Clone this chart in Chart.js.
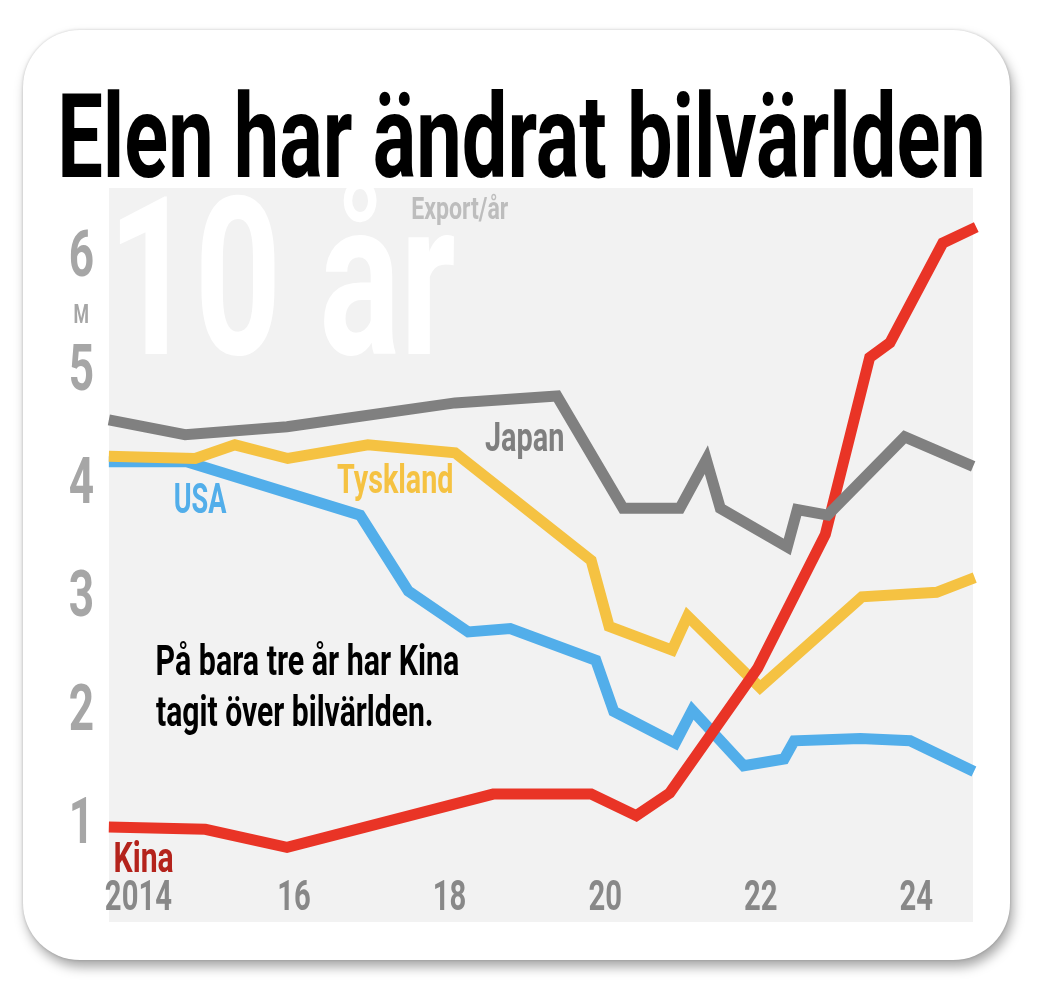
<!DOCTYPE html>
<html lang="sv">
<head>
<meta charset="utf-8">
<title>Elen har ändrat bilvärlden</title>
<script src="https://cdn.jsdelivr.net/npm/chart.js@4.4.1/dist/chart.umd.min.js"></script>
<style>
  html, body { margin: 0; padding: 0; background: #fff; }
  body { width: 1056px; height: 988px; position: relative; overflow: hidden; }
  .card {
    position: absolute; left: 23px; top: 30px; width: 987px; height: 930px;
    background: #fff; border-radius: 57px;
    box-shadow: 3px 7px 12px rgba(0, 0, 0, 0.35), 0 0 3px rgba(0, 0, 0, 0.18);
  }
  #chart { position: absolute; left: 0; top: 0; }
</style>
</head>
<body>
<div class="card"></div>
<canvas id="chart" width="1056" height="988"></canvas>
<script>
// Export per year, millions of cars
const japanYears = [2013.62, 2014.60, 2015.91, 2018.07, 2019.38, 2020.23, 2020.96, 2021.30, 2021.48, 2022.34, 2022.47, 2022.86, 2023.85, 2024.73];
const japanValues = [4.59, 4.46, 4.53, 4.74, 4.80, 3.81, 3.81, 4.24, 3.81, 3.47, 3.80, 3.75, 4.44, 4.18];

const kinaYears = [2013.62, 2014.86, 2015.91, 2018.56, 2019.82, 2020.40, 2020.83, 2021.96, 2022.83, 2023.40, 2023.66, 2024.34, 2024.77];
const kinaValues = [1.00, 0.98, 0.82, 1.29, 1.29, 1.10, 1.30, 2.40, 3.58, 5.14, 5.27, 6.15, 6.29];

const tysklandYears = [2013.62, 2014.73, 2015.24, 2015.92, 2016.95, 2018.07, 2019.82, 2020.05, 2020.86, 2021.06, 2021.99, 2023.30, 2024.26, 2024.75];
const tysklandValues = [4.27, 4.25, 4.37, 4.25, 4.37, 4.30, 3.35, 2.77, 2.56, 2.86, 2.23, 3.03, 3.07, 3.20];

const usaYears = [2013.62, 2014.62, 2016.85, 2017.47, 2018.24, 2018.78, 2019.88, 2020.11, 2020.90, 2021.12, 2021.78, 2022.30, 2022.43, 2023.28, 2023.92, 2024.74];
const usaValues = [4.22, 4.22, 3.75, 3.08, 2.72, 2.75, 2.47, 2.02, 1.74, 2.03, 1.54, 1.60, 1.76, 1.78, 1.76, 1.49];

const xTickYears = [2014, 2016, 2018, 2020, 2022, 2024];
const xTickLabels = ['2014', '16', '18', '20', '22', '24'];
const yTickValues = [1, 2, 3, 4, 5, 5.5, 6];
const yTickLabels = ['1', '2', '3', '4', '5', 'M', '6'];

const FONT = "Roboto, 'Liberation Sans', sans-serif";
const TICK_SQUEEZE = 0.68;

function toPoints(xs, ys) {
    return xs.map((x, i) => ({ x, y: ys[i] }));
}

// draw bold text squeezed to the given ink width (the original face is a condensed one)
function fitText(ctx, text, left, right, baseline, size, color) {
    ctx.save();
    ctx.font = `bold ${size}px ${FONT}`;
    ctx.fillStyle = color;
    ctx.textAlign = 'left';
    ctx.textBaseline = 'alphabetic';
    const m = ctx.measureText(text);
    const inkW = m.actualBoundingBoxLeft + m.actualBoundingBoxRight;
    const sx = (right - left) / inkW;
    ctx.translate(left + m.actualBoundingBoxLeft * sx, baseline);
    ctx.scale(sx, 1);
    ctx.fillText(text, 0, 0);
    ctx.restore();
}

const backdrop = {
    id: 'backdrop',
    beforeDraw(chart) {
        const { ctx, chartArea } = chart;
        ctx.save();
        ctx.fillStyle = '#f2f2f2';
        ctx.fillRect(chartArea.left, chartArea.top, chartArea.right - chartArea.left, 922 - chartArea.top);
        ctx.restore();
        fitText(ctx, '10 år', 120, 454, 354, 220, '#ffffff');
        fitText(ctx, 'Export/år', 412, 508, 219, 31, '#bdbdbd');

        // tick labels use the same narrow look: let fillText condense them
        Object.values(chart.scales).forEach(scale => {
            scale.getLabelItems().forEach(item => {
                ctx.save();
                ctx.font = item.font.string;
                item.options.maxWidth = ctx.measureText(item.label).width * TICK_SQUEEZE;
                ctx.restore();
            });
        });
    },
    afterDraw(chart) {
        const { ctx } = chart;
        fitText(ctx, 'Elen har ändrat bilvärlden', 62, 982, 177, 117, '#000000');
        fitText(ctx, 'Japan', 485, 563, 451, 41, '#7f7f7f');
        fitText(ctx, 'Tyskland', 337, 452, 493, 41, '#f5c242');
        fitText(ctx, 'USA', 175, 227, 513, 42, '#52aeea');
        fitText(ctx, 'Kina', 115, 173, 872, 43, '#b4231c');
        fitText(ctx, 'På bara tre år har Kina', 157, 459, 675, 42, '#000000');
        fitText(ctx, 'tagit över bilvärlden.', 156, 432, 726, 42, '#000000');
    }
};

document.addEventListener('DOMContentLoaded', () => {
    const canvas = document.getElementById('chart');

    new Chart(canvas.getContext('2d'), {
        type: 'line',
        data: {
            datasets: [
                { label: 'Japan', data: toPoints(japanYears, japanValues), borderColor: '#808080' },
                { label: 'Kina', data: toPoints(kinaYears, kinaValues), borderColor: '#e93426' },
                { label: 'Tyskland', data: toPoints(tysklandYears, tysklandValues), borderColor: '#f5c242' },
                { label: 'USA', data: toPoints(usaYears, usaValues), borderColor: '#52aeea' }
            ]
        },
        options: {
            responsive: false,
            animation: false,
            clip: false,
            layout: { padding: { left: 40, top: 188, right: 83, bottom: 0 } },
            elements: {
                line: { borderWidth: 11, tension: 0, borderJoinStyle: 'miter', borderCapStyle: 'butt', fill: false },
                point: { radius: 0, hoverRadius: 0 }
            },
            plugins: {
                legend: { display: false },
                tooltip: { enabled: false },
                title: { display: false }
            },
            scales: {
                x: {
                    type: 'linear',
                    min: 2013.622,
                    max: 2024.728,
                    afterFit: (scale) => { scale.height = 128; },
                    afterBuildTicks: (scale) => { scale.ticks = xTickYears.map(v => ({ value: v })); },
                    grid: { display: false, drawTicks: false },
                    border: { display: false },
                    ticks: {
                        autoSkip: false,
                        maxRotation: 0,
                        padding: 18,
                        color: '#888888',
                        font: { family: FONT, weight: 'bold', size: 43, lineHeight: 1 },
                        callback: (value) => xTickLabels[xTickYears.indexOf(value)]
                    }
                },
                y: {
                    min: 0.709,
                    max: 6.635,
                    afterFit: (scale) => { scale.width = 69; },
                    afterBuildTicks: (scale) => { scale.ticks = yTickValues.map(v => ({ value: v })); },
                    grid: { display: false, drawTicks: false },
                    border: { display: false },
                    ticks: {
                        autoSkip: false,
                        crossAlign: 'center',
                        padding: 9,
                        color: '#a6a6a6',
                        font: (ctx) => ({
                            family: FONT,
                            weight: 'bold',
                            size: ctx.tick && ctx.tick.value === 5.5 ? 26 : 65,
                            lineHeight: 1
                        }),
                        callback: (value) => yTickLabels[yTickValues.indexOf(value)]
                    }
                }
            }
        },
        plugins: [backdrop]
    });
});
</script>
</body>
</html>
